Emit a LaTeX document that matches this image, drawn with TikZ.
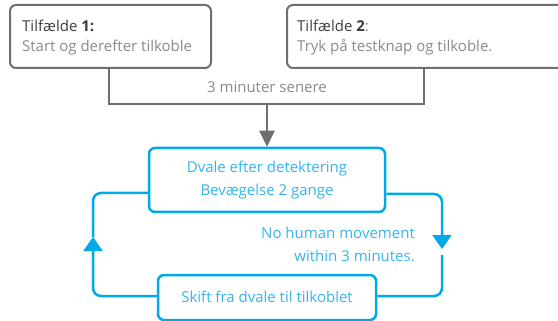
\documentclass[tikz,border=0pt]{standalone}
\usepackage{fontspec}
\setmainfont{Open Sans}
\usetikzlibrary{arrows.meta}
\definecolor{gline}{HTML}{6D6E71}
\definecolor{gtitle}{HTML}{3C3C3C}
\definecolor{gtext}{HTML}{8A8A8A}
\definecolor{bline}{HTML}{00AAE9}
\definecolor{btext}{HTML}{35B5EC}
\begin{document}
\begin{tikzpicture}[x=1pt,y=-1pt,
  graybox/.style={draw=gline,line width=2pt,rounded corners=6pt,inner sep=0pt},
  bluebox/.style={draw=bline,line width=2.5pt,rounded corners=6pt,inner sep=0pt,fill=white},
  gtxt/.style={text=gtext,font=\fontsize{15}{18}\selectfont,inner sep=0pt},
  ttxt/.style={text=gtitle,font=\fontsize{15}{18}\selectfont,inner sep=0pt},
  btxt/.style={text=btext,font=\fontsize{15}{18}\selectfont,inner sep=0pt},
  gconn/.style={draw=gline,line width=2pt},
  bconn/.style={draw=bline,line width=2.5pt,rounded corners=8pt}]
\useasboundingbox (0,0) rectangle (558,321);
\clip (0,0) rectangle (558,321);
% top boxes
\node[graybox,minimum width=201pt,minimum height=63pt] (b1) at (110.5,36.5) {};
\node[graybox,minimum width=278pt,minimum height=63pt] (b2) at (426,36.5) {};
\node[ttxt,anchor=west] (t1) at (22,26) {Tilfælde \textbf{1:}};
\node[gtxt,anchor=west] (s1) at (22,47.5) {Start og derefter tilkoble};
\node[ttxt,anchor=west] (t2) at (297,26) {Tilfælde \textbf{2}\textcolor{gtext}{:}};
\node[gtxt,anchor=west] (s2) at (297,47.5) {Tryk på testknap og tilkoble.};
% joining connector
\coordinate (cl) at (109,104);
\coordinate (cr) at (424,104);
\coordinate (cj) at (267,104);
\draw[gconn] (cl |- b1.south) -- (cl) -- (cr) -- (cr |- b2.south);
\node[gtxt] (lab) at (267,87) {3 minuter senere};
% blue boxes
\node[bluebox,minimum width=236pt,minimum height=64pt] (u) at (267,180) {};
\node[bluebox,minimum width=218pt,minimum height=45pt] (d) at (267,297.5) {};
\draw[gconn,-{Triangle[width=15pt,length=16pt]}] (cj) -- (u.north);
\node[btxt] (u1) at (267,169) {Dvale efter detektering};
\node[btxt] (u2) at (267,192) {Bevægelse 2 gange};
\node[btxt] (d1) at (267,297) {Skift fra dvale til tilkoblet};
\node[btxt,anchor=east] (n1) at (415,233) {No human movement};
\node[btxt,anchor=east] (n2) at (415,256) {within 3 minutes.};
% blue loop
\coordinate (lt) at (93,193);
\coordinate (lb) at (93,296);
\coordinate (la) at (93,237);
\coordinate (rt) at (442,194);
\coordinate (rb) at (442,296);
\coordinate (ra) at (442,249);
\coordinate (rg) at (442,255);
\draw[bconn,-{Triangle[width=19pt,length=14pt]}] (d.west |- lb) -- (lb) -- (la);
\draw[bconn] (la) -- (lt) -- (u.west |- lt);
\draw[bconn,-{Triangle[width=19pt,length=14pt]}] (u.east |- rt) -- (rt) -- (ra);
\draw[bconn] (rg) -- (rb) -- (d.east |- rb);
\end{tikzpicture}
\end{document}
